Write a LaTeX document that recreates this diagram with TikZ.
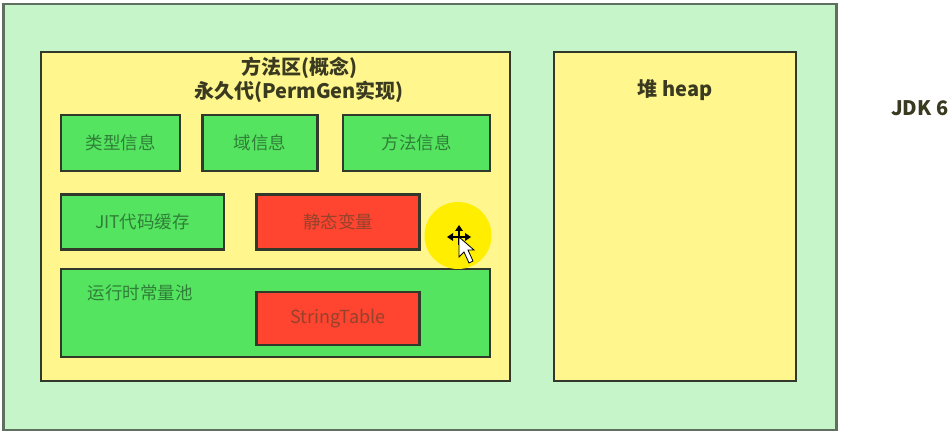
\documentclass[tikz,border=0pt]{standalone}
\usepackage{fontspec}
\setmainfont{Noto Sans CJK SC}
\definecolor{bgout}{HTML}{C5F5C8}
\definecolor{yel}{HTML}{FFF68E}
\definecolor{grn}{HTML}{55E45F}
\definecolor{rd}{HTML}{FF4430}
\definecolor{ln}{HTML}{33392A}
\definecolor{lnout}{HTML}{5F6F60}
\definecolor{txtg}{HTML}{2F7F38}
\definecolor{txtr}{HTML}{94422C}
\definecolor{halo}{HTML}{FFEE00}
\definecolor{ttlc}{HTML}{3A3A20}
\tikzset{x=1pt,y=-1pt,
 boxg/.style={draw=ln,line width=2.2pt,fill=grn,text=txtg,inner sep=0pt,font=\fontsize{17.5}{20}\selectfont},
 boxr/.style={draw=ln,line width=2.2pt,fill=rd,text=txtr,inner sep=0pt,font=\fontsize{17.5}{20}\selectfont},
 boxy/.style={draw=ln,line width=2.2pt,fill=yel,inner sep=0pt},
 boxo/.style={draw=lnout,line width=2.4pt,fill=bgout,inner sep=0pt},
 ttl/.style={font=\bfseries\fontsize{20}{22}\selectfont,text=ttlc},
 curarrow/.style={fill=black,draw=none}}
\begin{document}
\begin{tikzpicture}
\useasboundingbox (0,0) rectangle (950,435);
\fill[white] (0,0) rectangle (950,435);
\node[boxo,minimum width=833pt,minimum height=426pt] (outer) at (420,217) {};
\node[boxy,minimum width=469pt,minimum height=329pt] (method) at (275.5,216.5) {};
\node[boxy,minimum width=242pt,minimum height=329pt] (heap) at (675,216.5) {};
\node[ttl] (t1) at (299,67.5) {方法区(概念)};
\node[ttl] (t2) at (299,91.5) {永久代(PermGen实现)};
\node[ttl] (t3) at (675,90.5) {堆 heap};
\node[font=\bfseries\fontsize{20}{22}\selectfont,text=ttlc,anchor=west,inner sep=0pt] (jdk) at (891,108) {JDK 6};
\node[boxg,minimum width=119pt,minimum height=56pt] (a) at (120.5,143) {类型信息};
\node[boxg,minimum width=115pt,minimum height=56pt] (b) at (260,143) {域信息};
\node[boxg,minimum width=147pt,minimum height=56pt] (c) at (416.5,143) {方法信息};
\node[boxg,minimum width=163pt,minimum height=55pt] (d) at (142.5,222) {JIT代码缓存};
\node[boxr,minimum width=163pt,minimum height=55pt] (e) at (338,222) {静态变量};
\node[boxg,minimum width=429pt,minimum height=88pt] (f) at (275.5,313) {};
\node[text=txtg,font=\fontsize{17.5}{20}\selectfont] (g) at (140,293) {运行时常量池};
\node[boxr,minimum width=163pt,minimum height=53pt,font=\fontsize{18}{20}\selectfont] (h) at (338,318.5) {StringTable};
\fill[halo] (458,235.5) circle (33.5);
% cursor: move arrows
\draw[black,line width=1.6pt] (451,237) -- (467,237) (459,229) -- (459,245);
\fill[curarrow] (459,225) -- (455,231) -- (463,231) -- cycle;
\fill[curarrow] (447,237) -- (453,233) -- (453,241) -- cycle;
\fill[curarrow] (471,237) -- (465,233) -- (465,241) -- cycle;
\draw[black,fill=white,line width=.8pt] (459,237) -- (459,257) -- (464,252) -- (469,263) -- (473,261) -- (468,250) -- (474,250) -- cycle;
\end{tikzpicture}
\end{document}
